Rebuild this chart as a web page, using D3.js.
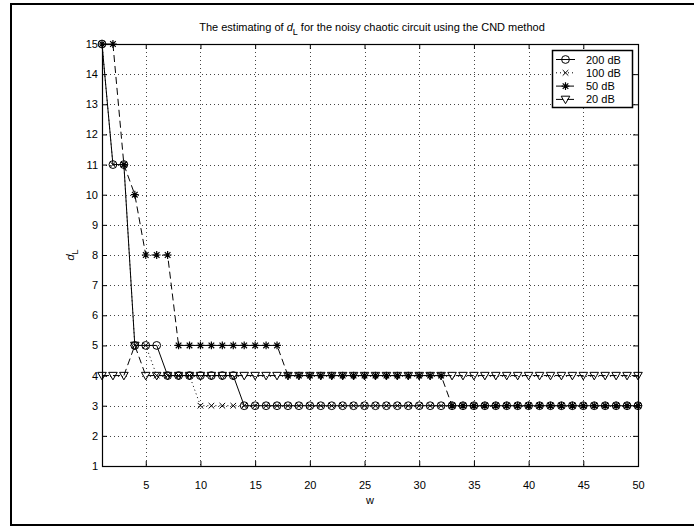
<!DOCTYPE html>
<html>
<head>
<meta charset="UTF-8">
<title>CND estimate</title>
<script src="https://d3js.org/d3.v7.min.js"></script>
<style>
  body { margin: 0; background: #fff; }
  svg text { font-family: "Liberation Sans", Arial, sans-serif; fill: #000; }
</style>
</head>
<body>
<div id="chart"></div>
<script>
(function(d3) {

  // window sizes and x values
  var wValues = [1,2,3,4,5,6,7,8,9,10,11,12,13,14,15,16,17,18,19,20,
                 21,22,23,24,25,26,27,28,29,30,31,32,33,34,35,36,37,38,39,40,
                 41,42,43,44,45,46,47,48,49,50];

  var d200 = [15,11,11,5,5,5,4,4,4,4,4,4,4,3,3,3,3,3,3,3,
              3,3,3,3,3,3,3,3,3,3,3,3,3,3,3,3,3,3,3,3,
              3,3,3,3,3,3,3,3,3,3];
  var d100 = [15,11,11,5,5,4,4,4,4,3,3,3,3,3,3,3,3,3,3,3,
              3,3,3,3,3,3,3,3,3,3,3,3,3,3,3,3,3,3,3,3,
              3,3,3,3,3,3,3,3,3,3];
  var d50  = [15,15,11,10,8,8,8,5,5,5,5,5,5,5,5,5,5,4,4,4,
              4,4,4,4,4,4,4,4,4,4,4,4,3,3,3,3,3,3,3,3,
              3,3,3,3,3,3,3,3,3,3];
  var d20  = [4,4,4,5,4,4,4,4,4,4,4,4,4,4,4,4,4,4,4,4,
              4,4,4,4,4,4,4,4,4,4,4,4,4,4,4,4,4,4,4,4,
              4,4,4,4,4,4,4,4,4,4];

  var seriesNames = ['200 dB', '100 dB', '50 dB', '20 dB'];
  var xTicks = [5,10,15,20,25,30,35,40,45,50];
  var yTicks = [1,2,3,4,5,6,7,8,9,10,11,12,13,14,15];

  var width = 694, height = 527;
  var left = 102, right = 638, top = 44, bottom = 466;

  var svg = d3.select('#chart').append('svg')
      .attr('width', width)
      .attr('height', height);

  // outer figure frame
  svg.append('rect')
      .attr('x', 11).attr('y', 4)
      .attr('width', 720).attr('height', 521)
      .attr('fill', '#fff')
      .attr('stroke', '#000')
      .attr('stroke-width', 2);

  var x = d3.scaleLinear().domain([1, 50]).range([left, right]);
  var y = d3.scaleLinear().domain([1, 15]).range([bottom, top]);

  // grid
  var grid = svg.append('g')
      .attr('stroke', '#444')
      .attr('stroke-width', 1)
      .attr('stroke-dasharray', '1,3');
  grid.selectAll('line.v')
      .data(xTicks.filter(function(t) { return t < 50; }))
      .enter().append('line')
      .attr('x1', function(d) { return Math.round(x(d)) + 0.5; })
      .attr('x2', function(d) { return Math.round(x(d)) + 0.5; })
      .attr('y1', top).attr('y2', bottom);
  grid.selectAll('line.h')
      .data(yTicks.filter(function(t) { return t > 1 && t < 15; }))
      .enter().append('line')
      .attr('y1', function(d) { return Math.round(y(d)) + 0.5; })
      .attr('y2', function(d) { return Math.round(y(d)) + 0.5; })
      .attr('x1', left).attr('x2', right);

  // axes
  var xAxis = svg.append('g')
      .attr('transform', 'translate(0,' + bottom + ')')
      .call(d3.axisBottom(x).tickValues(xTicks).tickSize(-5).tickPadding(15));
  var xAxisTop = svg.append('g')
      .attr('transform', 'translate(0,' + top + ')')
      .call(d3.axisTop(x).tickValues(xTicks).tickSize(-5).tickFormat(''));
  var yAxis = svg.append('g')
      .attr('transform', 'translate(' + left + ',0)')
      .call(d3.axisLeft(y).tickValues(yTicks).tickSize(-5).tickPadding(4));
  var yAxisRight = svg.append('g')
      .attr('transform', 'translate(' + right + ',0)')
      .call(d3.axisRight(y).tickValues(yTicks).tickSize(-5).tickFormat(''));

  [xAxis, xAxisTop, yAxis, yAxisRight].forEach(function(g) {
    g.select('.domain').remove();
    g.selectAll('line').attr('stroke', '#000');
    g.selectAll('text')
        .style('font-family', '"Liberation Sans", Arial, sans-serif')
        .style('font-size', '11px')
        .attr('fill', '#000');
  });

  svg.append('rect')
      .attr('x', left + 0.5).attr('y', top + 0.5)
      .attr('width', right - left).attr('height', bottom - top)
      .attr('fill', 'none')
      .attr('stroke', '#000')
      .attr('stroke-width', 1.2);

  // markers
  function drawMarker(g, type, cx, cy) {
    if (type === 'o') {
      g.append('circle').attr('cx', cx).attr('cy', cy).attr('r', 3.9)
          .attr('fill', 'none').attr('stroke', '#000').attr('stroke-width', 1);
    } else if (type === 'x') {
      var s = 2.8;
      g.append('path')
          .attr('d', 'M' + (cx - s) + ',' + (cy - s) + 'L' + (cx + s) + ',' + (cy + s) +
                     'M' + (cx - s) + ',' + (cy + s) + 'L' + (cx + s) + ',' + (cy - s))
          .attr('stroke', '#000').attr('stroke-width', 1);
    } else if (type === '*') {
      var r = 3.9, q = 2.8;
      g.append('path')
          .attr('d', 'M' + (cx - r) + ',' + cy + 'L' + (cx + r) + ',' + cy +
                     'M' + cx + ',' + (cy - r) + 'L' + cx + ',' + (cy + r) +
                     'M' + (cx - q) + ',' + (cy - q) + 'L' + (cx + q) + ',' + (cy + q) +
                     'M' + (cx - q) + ',' + (cy + q) + 'L' + (cx + q) + ',' + (cy - q))
          .attr('stroke', '#000').attr('stroke-width', 1.2);
    } else if (type === 'v') {
      var a = 4.3;
      g.append('path')
          .attr('d', 'M' + (cx - a) + ',' + (cy - a * 0.75) + 'L' + (cx + a) + ',' + (cy - a * 0.75) +
                     'L' + cx + ',' + (cy + a) + 'Z')
          .attr('fill', 'none').attr('stroke', '#000').attr('stroke-width', 1);
    }
  }

  var series = [
    { name: seriesNames[0], values: d200, marker: 'o', dash: null },
    { name: seriesNames[1], values: d100, marker: 'x', dash: '1,3' },
    { name: seriesNames[2], values: d50,  marker: '*', dash: '7,4' },
    { name: seriesNames[3], values: d20,  marker: 'v', dash: '7,4' }
  ];

  var line = d3.line()
      .x(function(d) { return x(d[0]); })
      .y(function(d) { return y(d[1]); });

  series.forEach(function(s) {
    var pts = wValues.map(function(w, i) { return [w, s.values[i]]; });
    var g = svg.append('g');
    g.append('path')
        .attr('d', line(pts))
        .attr('fill', 'none')
        .attr('stroke', '#000')
        .attr('stroke-width', 1)
        .attr('stroke-dasharray', s.dash);
    pts.forEach(function(p) { drawMarker(g, s.marker, x(p[0]), y(p[1])); });
  });

  // legend
  var lg = svg.append('g');
  lg.append('rect')
      .attr('x', 552.5).attr('y', 50.5)
      .attr('width', 80).attr('height', 57)
      .attr('fill', '#fff')
      .attr('stroke', '#000')
      .attr('stroke-width', 1.5);
  series.forEach(function(s, i) {
    var ly = 59.5 + i * 13.3;
    lg.append('line')
        .attr('x1', 556).attr('x2', 575)
        .attr('y1', ly).attr('y2', ly)
        .attr('stroke', '#000').attr('stroke-width', 1)
        .attr('stroke-dasharray', s.dash);
    drawMarker(lg, s.marker, 565.5, ly);
    lg.append('text')
        .attr('x', 586).attr('y', ly + 4)
        .style('font-size', '11px')
        .text(s.name);
  });

  // title
  var title = svg.append('text')
      .attr('x', 372).attr('y', 31)
      .attr('text-anchor', 'middle')
      .style('font-size', '11px');
  title.append('tspan').text('The estimating of ');
  title.append('tspan').style('font-style', 'italic').text('d');
  title.append('tspan').attr('dy', 4).style('font-size', '9px').text('L');
  title.append('tspan').attr('dy', -4).text(' for the noisy chaotic circuit using the CND method');

  // axis labels
  svg.append('text')
      .attr('x', 370).attr('y', 504)
      .attr('text-anchor', 'middle')
      .style('font-size', '11px')
      .text('w');

  var yl = svg.append('text')
      .attr('transform', 'translate(74,255) rotate(-90)')
      .attr('text-anchor', 'middle')
      .style('font-size', '11px');
  yl.append('tspan').style('font-style', 'italic').text('d');
  yl.append('tspan').attr('dy', 4).style('font-size', '9px').text('L');

})(window.d3);
</script>
</body>
</html>
